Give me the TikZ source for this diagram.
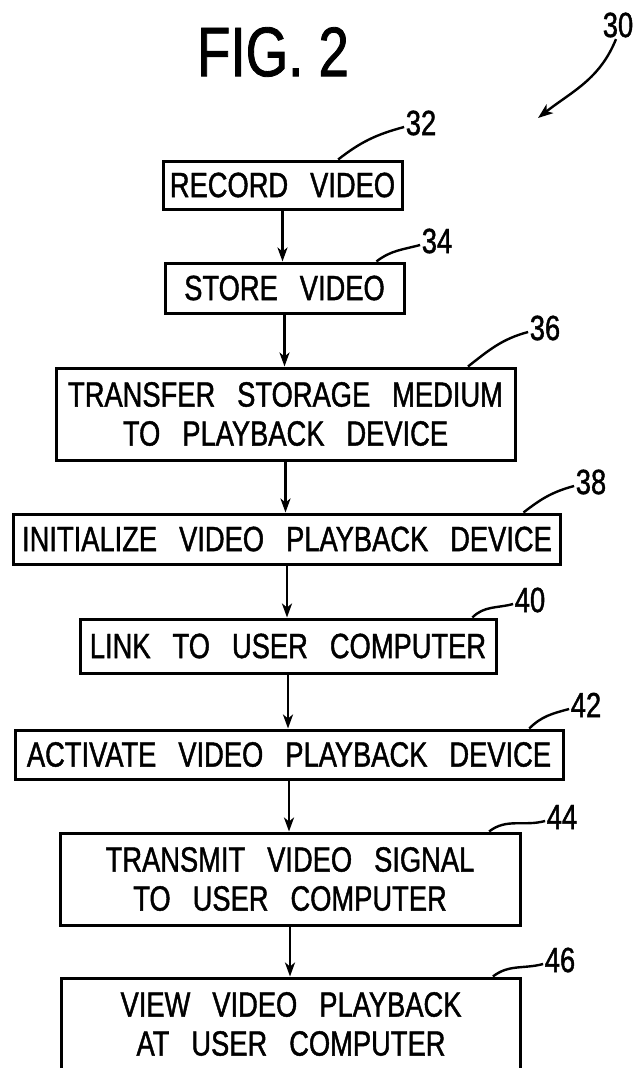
\documentclass[tikz,border=0pt]{standalone}
\usepackage{fontspec}
\setmainfont{Liberation Sans}[FakeStretch=0.78, WordSpace=2.9, FakeBold=1.2]
\newfontfamily\figfont{Liberation Sans}[FakeStretch=0.78, FakeBold=1.2]
\usetikzlibrary{arrows.meta,calc}
\begin{document}
\begin{tikzpicture}[x=1pt,y=-1pt,
  box/.style={draw, line width=3pt, inner sep=0pt, align=center,
    font=\fontsize{35}{39}\selectfont},
  lbl/.style={font=\figfont\fontsize{35}{39}\selectfont, inner sep=1.5pt},
  flow/.style={line width=2.6pt, -{Stealth[length=14pt,width=10pt,inset=4pt]}},
  leader/.style={line width=2.4pt},
  leaderarrow/.style={line width=2.4pt, -{Stealth[length=15pt,width=11pt,inset=4pt]}}]
\useasboundingbox (0,0) rectangle (637,1068);
\clip (0,0) rectangle (637,1068);

\node[font=\figfont\fontsize{70}{70}\selectfont, inner sep=0pt] (title) at (273,52) {FIG. 2};

\node[box, minimum width=239pt, minimum height=48pt] (b32) at (282.5,185) {RECORD VIDEO};
\node[box, minimum width=239pt, minimum height=50pt] (b34) at (284.5,288) {STORE VIDEO};
\node[box, minimum width=459pt, minimum height=92pt] (b36) at (285.5,414) {TRANSFER STORAGE MEDIUM\\TO PLAYBACK DEVICE};
\node[box, minimum width=547pt, minimum height=50pt] (b38) at (287,539) {INITIALIZE VIDEO PLAYBACK DEVICE};
\node[box, minimum width=416pt, minimum height=54pt] (b40) at (288,646) {LINK TO USER COMPUTER};
\node[box, minimum width=548pt, minimum height=49pt] (b42) at (289,754.5) {ACTIVATE VIDEO PLAYBACK DEVICE};
\node[box, minimum width=460pt, minimum height=92pt] (b44) at (290,879) {TRANSMIT VIDEO SIGNAL\\TO USER COMPUTER};
\node[box, minimum width=459pt, minimum height=92pt] (b46) at (291,1024) {VIEW VIDEO PLAYBACK\\AT USER COMPUTER};

\draw[flow] (b32.south) -- (b32.south |- b34.north);
\draw[flow] (b34.south) -- (b34.south |- b36.north);
\draw[flow] (b36.south) -- (b36.south |- b38.north);
\draw[flow] (b38.south) -- (b38.south |- b40.north);
\draw[flow] (b40.south) -- (b40.south |- b42.north);
\draw[flow] (b42.south) -- (b42.south |- b44.north);
\draw[flow] (b44.south) -- (b44.south |- b46.north);

\node[lbl] (l30) at (618,25) {30};
\node[lbl] (l32) at (421,123) {32};
\node[lbl] (l34) at (437,241) {34};
\node[lbl] (l36) at (545,328) {36};
\node[lbl] (l38) at (591,482) {38};
\node[lbl] (l40) at (530,600) {40};
\node[lbl] (l42) at (586,705) {42};
\node[lbl] (l44) at (562,817) {44};
\node[lbl] (l46) at (560,960) {46};

\coordinate (c30) at (538,118);
\draw[leaderarrow] ([xshift=-2pt]l30.south) to[out=-112,in=38] (c30);

\draw[leader] ($(b32.north west)!0.73!(b32.north east)$) to[out=38,in=195] ([yshift=-4pt]l32.west);
\draw[leader] ($(b34.north west)!0.88!(b34.north east)$) to[out=38,in=195] ([yshift=-4pt]l34.west);
\draw[leader] ($(b36.north west)!0.895!(b36.north east)$) to[out=38,in=195] ([yshift=-4pt]l36.west);
\draw[leader] ($(b38.north west)!0.93!(b38.north east)$) to[out=38,in=195] ([yshift=-4pt]l38.west);
\draw[leader] ($(b40.north west)!0.94!(b40.north east)$) to[out=45,in=195] ([yshift=-4pt]l40.west);
\draw[leader] ($(b42.north west)!0.936!(b42.north east)$) to[out=45,in=195] ([yshift=-4pt]l42.west);
\draw[leader] ($(b44.north west)!0.93!(b44.north east)$) to[out=38,in=195] ([yshift=-4pt]l44.west);
\draw[leader] ($(b46.north west)!0.937!(b46.north east)$) to[out=38,in=195] ([yshift=-4pt]l46.west);
\end{tikzpicture}
\end{document}
